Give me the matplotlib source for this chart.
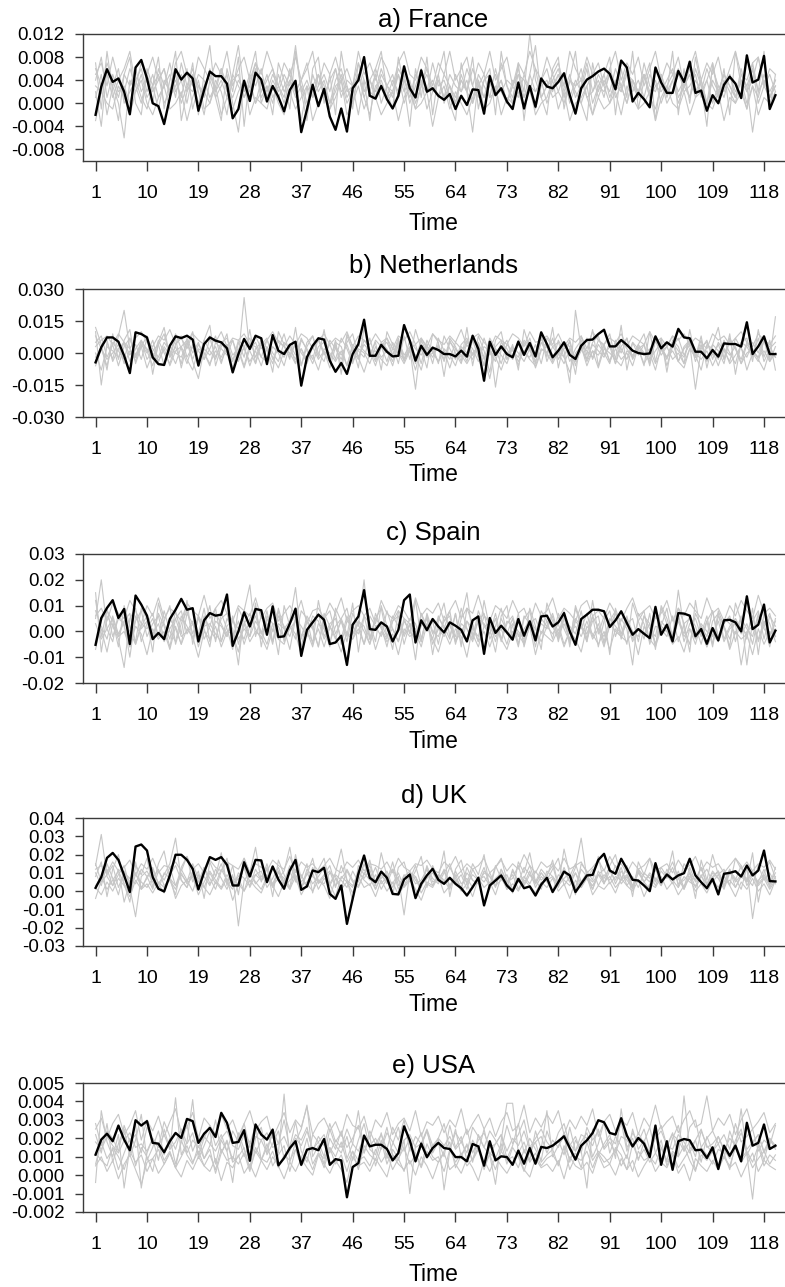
import numpy as np
import matplotlib
matplotlib.use("Agg")
import matplotlib.pyplot as plt

plt.rcParams['font.family'] = ['Liberation Sans', 'DejaVu Sans']
plt.rcParams['axes.unicode_minus'] = False

# ---------------- data ----------------
titles = ["a) France", "b) Netherlands", "c) Spain", "d) UK", "e) USA"]
x_label = "Time"
x_ticks = list(range(1, 119, 9))
units = [1e-3, 1e-3, 1e-3, 1e-3, 1e-4]

y_ticks = [
    [0.012, 0.008, 0.004, 0.000, -0.004, -0.008],
    [0.030, 0.015, 0.000, -0.015, -0.030],
    [0.03, 0.02, 0.01, 0.00, -0.01, -0.02],
    [0.04, 0.03, 0.02, 0.01, 0.00, -0.01, -0.02, -0.03],
    [0.005, 0.004, 0.003, 0.002, 0.001, 0.000, -0.001, -0.002],
]
y_ticklabels = [
    ["0.012", "0.008", "0.004", "0.000", "-0.004", "-0.008"],
    ["0.030", "0.015", "0.000", "-0.015", "-0.030"],
    ["0.03", "0.02", "0.01", "0.00", "-0.01", "-0.02"],
    ["0.04", "0.03", "0.02", "0.01", "0.00", "-0.01", "-0.02", "-0.03"],
    ["0.005", "0.004", "0.003", "0.002", "0.001", "0.000", "-0.001", "-0.002"],
]
y_limits = [(-0.010, 0.012), (-0.030, 0.030), (-0.02, 0.03), (-0.03, 0.04), (-0.002, 0.005)]

# highlighted (black) series, in the units listed above
france = [-2.0, 2.9, 5.9, 3.7, 4.3, 2.0, -1.9, 6.2, 7.5, 4.3,
          0.0, -0.5, -3.6, 0.9, 5.9, 4.1, 5.3, 4.3, -1.3, 2.3,
          5.5, 4.7, 4.7, 3.4, -2.6, -1.0, 3.9, 0.4, 5.3, 4.1,
          0.3, 3.0, 1.1, -1.4, 2.3, 3.9, -5.0, -1.1, 3.2, -0.5,
          2.5, -2.3, -4.6, -0.9, -4.9, 2.6, 4.0, 8.0, 1.3, 0.8,
          3.0, 0.7, -0.9, 1.3, 6.4, 2.6, 1.0, 5.7, 2.0, 2.6,
          1.3, 0.6, 1.6, -1.0, 1.3, -0.3, 2.4, 2.3, -1.8, 4.7,
          1.4, 2.6, 0.3, -1.0, 3.6, -0.9, 3.0, -0.6, 4.3, 2.9,
          2.6, 3.7, 5.2, 1.4, -1.8, 2.6, 4.1, 4.7, 5.5, 6.0,
          5.1, 2.4, 7.4, 6.2, 0.3, 1.8, 0.7, -0.7, 6.2, 3.6,
          1.8, 1.8, 5.6, 3.7, 7.2, 1.8, 2.2, -1.3, 1.4, 0.0,
          3.2, 4.6, 3.4, 0.9, 8.3, 3.6, 4.1, 8.2, -1.0, 1.4]
netherlands = [-4.4, 2.7, 7.3, 7.3, 5.3, -1.3, -9.4, 9.7, 8.9, 7.3,
               -2.0, -5.2, -5.6, 3.4, 7.8, 7.0, 8.1, 6.3, -5.9, 4.2,
               7.3, 5.8, 5.0, 2.2, -9.1, -0.5, 6.6, 1.9, 8.1, 6.9,
               -5.2, 8.4, 1.1, -0.5, 3.8, 5.3, -15.3, -2.0, 3.4, 6.9,
               6.3, -3.6, -8.8, -4.7, -9.8, -0.5, 4.2, 15.6, -1.3, -1.3,
               3.8, 0.6, -1.6, -1.3, 13.1, 5.8, -3.6, 3.4, -0.9, 2.5,
               1.4, -0.5, -0.5, -1.6, 1.1, -1.7, 8.1, 1.9, -13.0, 5.3,
               -0.9, 3.1, -0.5, -2.0, 5.3, -0.9, 4.7, -1.6, 9.7, 4.2,
               -2.0, 1.1, 5.0, -0.9, -2.8, 3.4, 6.1, 6.3, 8.9, 10.9,
               3.1, 3.1, 6.1, 3.8, 1.1, 0.0, -0.5, -0.2, 7.8, 2.2,
               5.0, 3.0, 11.3, 7.3, 6.9, 0.6, 0.6, -2.5, 1.4, -1.7,
               4.5, 4.2, 4.2, 3.0, 14.4, -0.5, 3.1, 7.8, -0.5, -0.5]
spain = [-5.2, 5.2, 9.1, 12.1, 5.2, 8.7, -4.9, 13.9, 10.4, 6.1,
         -3.0, -0.6, -3.0, 4.8, 8.4, 12.6, 8.4, 9.0, -3.9, 4.3,
         7.1, 6.1, 6.5, 14.3, -5.6, 0.0, 7.4, 1.9, 8.7, 8.2,
         -1.3, 9.7, -2.2, -1.9, 3.0, 8.8, -9.5, 0.6, 3.5, 6.5,
         4.5, -4.9, -4.3, -1.7, -13.0, 2.6, 5.8, 16.0, 0.9, 0.6,
         3.5, 1.9, -3.9, 0.6, 12.1, 14.3, -4.3, 4.3, 0.5, 4.8,
         1.9, -0.4, 3.5, 2.2, 0.6, -3.9, 4.3, 5.8, -8.7, 5.2,
         -0.6, 2.2, -0.4, -3.2, 4.8, -1.7, 3.9, -3.5, 5.8, 6.1,
         1.9, 3.5, 7.1, 0.0, -5.2, 4.8, 6.5, 8.4, 8.4, 7.8,
         1.7, 4.3, 7.8, 3.2, -1.3, 0.9, -0.9, -2.6, 9.5, -1.3,
         2.6, -3.9, 7.1, 6.9, 6.1, -1.9, 0.9, -4.8, 1.3, -3.5,
         4.3, 4.5, 3.5, 0.0, 13.6, 0.9, 2.6, 10.4, -4.3, 0.3]
uk = [1.8, 7.7, 18.2, 20.9, 17.1, 8.6, -0.5, 24.4, 25.5, 22.2,
      7.7, 1.3, -0.2, 8.6, 19.9, 19.9, 17.1, 12.2, 0.9, 10.4,
      18.6, 17.1, 18.6, 14.4, 3.1, 3.1, 15.8, 8.0, 17.1, 16.8,
      4.9, 13.5, 6.4, 1.3, 11.3, 17.1, 0.7, 2.6, 11.3, 10.4,
      12.8, -1.5, -4.2, 3.1, -17.9, -4.2, 9.5, 19.5, 7.3, 4.9,
      10.7, 7.3, -1.5, -1.8, 6.4, 9.1, -3.8, 4.0, 8.6, 12.2,
      6.2, 4.0, 7.3, 4.0, 1.6, -2.4, 2.2, 7.3, -7.8, 3.1,
      5.8, 8.6, 3.1, 0.0, 6.7, 1.6, 2.6, -2.4, 3.6, 7.3,
      -0.5, 4.9, 10.7, 8.6, -0.5, 4.0, 8.6, 8.9, 17.1, 20.4,
      11.3, 9.5, 17.7, 12.2, 6.2, 5.8, 3.1, 0.0, 15.3, 4.9,
      9.1, 6.4, 8.6, 9.8, 17.7, 8.6, 4.9, 1.6, 6.7, -1.8,
      9.5, 10.0, 10.9, 8.0, 14.0, 8.6, 11.3, 22.2, 5.5, 5.3]
usa = [11.1, 19.3, 22.5, 18.4, 26.9, 19.3, 13.5, 29.8, 26.9, 29.3,
       17.5, 17.1, 12.4, 18.4, 22.9, 20.2, 30.5, 29.3, 17.5, 22.5,
       25.6, 20.7, 33.8, 28.4, 17.5, 18.0, 24.4, 7.8, 27.5, 22.0,
       19.3, 24.7, 5.3, 9.3, 14.7, 18.4, 5.6, 13.8, 14.7, 13.5,
       19.6, 5.6, 8.7, 8.0, -12.0, 4.4, 6.5, 21.5, 15.6, 16.5,
       16.5, 14.2, 8.0, 12.0, 26.5, 18.9, 7.5, 17.1, 9.8, 14.7,
       17.5, 14.7, 14.2, 9.8, 9.8, 7.5, 16.9, 15.6, 5.1, 18.4,
       8.0, 10.2, 9.8, 5.6, 13.3, 6.2, 14.7, 6.2, 15.3, 14.7,
       16.0, 18.4, 21.1, 14.7, 8.4, 16.0, 18.9, 22.9, 29.8, 28.7,
       22.9, 22.0, 30.9, 21.5, 15.6, 20.2, 17.1, 9.8, 26.9, 5.6,
       18.4, 2.9, 18.4, 19.6, 18.9, 13.5, 13.8, 9.3, 15.1, 3.3,
       16.0, 10.5, 16.0, 7.5, 28.4, 16.0, 17.5, 27.5, 14.2, 16.0]

# background (grey) series, same units
fr_g1 = [4,8,1,5,2,3,0,4,6,2, 5,1,3,7,2,4,0,5,3,1, 6,2,4,1,5,10,2,3,0,4, 2,5,3,1,6,2,4,0,3,5,
         1,4,6,2,3,0,5,2,4,6, 3,1,4,2,5,0,3,6,2,4, 1,5,3,0,4,2,6,3,1,5, 2,4,0,3,6,2,12,4,1,3,
         5,2,0,4,3,6,1,2,5,3, 0,4,2,6,3,1,5,2,4,0, 3,5,2,4,1,6,3,0,4,2, 5,3,1,4,2,6,0,3,5,2]
fr_g2 = [2,-4,6,3,0,-6,4,2,5,1, 3,-1,4,2,5,0,3,6,2,-2, 4,1,3,5,0,-5,4,2,6,1, 3,0,5,2,4,1,3,-1,5,2,
         4,0,2,5,1,3,-2,4,2,5, 0,3,5,1,4,2,-1,3,5,2, 4,1,3,0,5,2,-5,4,1,3, 5,2,0,4,3,1,5,2,4,0,
         3,5,1,4,2,0,3,5,1,4, 2,6,3,0,4,2,5,1,3,4, 0,2,5,3,1,4,2,6,3,1, 4,2,0,5,3,-5,2,4,1,3]
fr_g3 = [6,3,5,1,4,2,6,3,0,5, 2,4,6,1,3,5,2,4,0,3, 5,2,6,3,1,4,2,5,3,6, 1,4,2,5,3,10,2,4,1,5,
         3,0,4,6,2,3,5,1,4,2, 6,3,1,5,2,4,0,3,6,2, 4,1,5,3,2,4,0,5,3,1, 6,2,4,3,5,1,3,2,4,6,
         2,5,3,1,4,2,6,0,3,5, 1,4,3,6,2,4,1,5,3,2, 4,6,1,3,5,2,4,0,6,3, 2,5,1,4,3,6,2,4,1,3]
fr_g4 = [1,5,-2,3,6,0,2,4,1,-1, 3,5,0,2,4,1,6,-1,3,2, 0,4,2,-2,5,3,1,4,0,2, 5,1,3,0,4,2,-3,3,1,5,
         2,-1,3,4,0,2,5,1,-2,3, 4,1,2,5,0,3,1,4,-1,2, 5,0,3,1,4,2,0,3,5,1, 2,4,0,3,1,5,2,-1,3,4,
         1,2,5,0,3,4,1,-2,3,2, 5,1,3,0,4,2,5,1,-1,3, 2,4,0,3,5,1,2,4,0,3, 1,5,2,4,0,3,1,5,2,4]
fr_g5 = [3,2,7,4,1,5,3,6,2,4, 0,6,3,5,1,7,3,2,5,4, 1,3,6,2,4,5,1,3,7,2, 4,6,1,3,5,2,4,7,1,3,
         5,2,6,1,4,3,7,2,4,1, 5,3,2,6,4,1,5,3,2,7, 3,4,1,5,2,6,3,1,4,5, 2,7,3,1,5,4,2,6,1,3,
         4,6,2,5,1,3,7,2,4,1, 6,3,2,5,4,1,7,3,2,5, 1,4,6,2,3,5,1,4,7,2, 5,3,1,6,2,4,8,3,1,4]
fr_g6 = [7,-1,9,2,-3,5,8,0,-2,6, 3,8,-1,4,9,-3,2,7,-2,5, 10,1,-3,6,2,8,-4,5,9,0, 3,-2,7,4,-1,9,2,-3,6,8,
         0,5,-2,9,3,-1,7,4,-3,6, 9,2,-1,8,3,-4,6,1,8,-2, 5,9,0,-3,7,2,8,-1,4,6, -2,9,3,0,7,-3,5,10,1,-2,
         6,8,-1,4,9,0,-3,7,2,5, 8,-2,6,1,9,-1,4,7,-3,5, 2,9,-2,6,0,8,3,-4,7,1, 6,-2,9,3,-1,7,2,9,-1,5]
fr_g7 = [-3,2,0,-1,3,1,-2,2,4,0, -2,1,3,-1,0,2,-3,1,4,-1, 0,3,-2,1,-1,2,4,-2,1,0, -1,3,0,-2,2,-1,1,3,-3,0,
         2,-1,1,4,-2,0,3,-1,2,1, -2,0,2,-3,1,3,-1,0,2,-4, 1,3,-1,2,0,-2,1,4,-1,0, 3,-2,1,0,2,-1,3,-2,0,1,
         4,-1,2,-3,0,1,3,-2,1,-1, 0,2,-2,3,1,-1,0,2,-3,1, 3,0,-1,2,-2,1,4,0,-1,2, -3,1,0,2,-1,3,-2,1,0,2]
fr_g8 = [5,7,3,8,4,6,9,3,7,5, 8,4,6,2,7,9,5,3,8,6, 4,7,5,9,3,6,8,4,7,5, 9,6,3,7,5,8,4,6,9,3,
         7,5,8,4,6,3,9,5,7,4, 8,6,3,7,9,5,4,8,6,3, 7,5,9,4,6,8,3,7,5,9, 4,6,8,3,7,5,9,6,4,8,
         5,7,3,9,6,4,8,5,7,3, 6,9,4,7,5,8,3,6,9,4, 7,5,8,3,6,9,4,7,5,8, 3,6,9,5,4,7,8,3,6,5]

nl_g1 = [10,-15,5,-3,8,20,2,-4,6,1, -6,4,9,-2,3,-5,7,0,5,-3, 2,8,-4,3,6,-2,26,1,-5,4, 7,-3,2,9,-1,4,-6,3,8,0,
         -4,6,2,-3,5,9,-2,4,1,-6, 3,7,-1,5,-4,2,-17,6,0,3, -5,8,2,-3,4,7,-1,3,-6,5, -16,2,6,-3,4,0,7,-2,5,3,
         -4,6,1,-14,20,2,-3,5,8,-1, 3,-5,6,2,-2,4,9,-3,1,5, -6,3,7,-1,4,-17,2,6,-3,5, 1,-4,7,2,-2,5,0,8,-3,17]
nl_g2 = [5,8,-2,4,-6,3,7,-1,5,2, -3,6,0,-5,4,8,-2,3,-4,6, 1,-3,5,7,-1,2,-6,4,3,-2, 6,0,-4,5,2,-3,7,1,-5,3,
         5,-2,4,-6,8,1,-3,6,2,-4, 3,5,-1,7,-3,2,4,-5,6,0, 3,-4,5,2,-2,6,-1,4,-3,7, 2,-5,4,1,-2,6,3,-4,5,0,
         7,-3,2,5,-6,4,1,-2,6,3, -4,5,0,7,-3,2,4,-5,6,-1, 3,8,-4,2,5,-2,6,-3,4,1, -5,7,2,-3,5,0,-4,6,3,-2]
nl_g3 = [-2,3,6,-4,2,5,-1,4,-3,7, 2,-2,5,1,-5,3,6,-3,4,0, -6,5,2,-1,6,-4,3,7,-2,4, 1,-5,6,3,-2,5,0,-4,3,6,
         -1,4,-3,7,2,-5,4,1,-2,6, 3,-4,5,0,-3,6,2,-1,4,-5, 7,1,-3,5,2,-4,6,-2,3,1, -4,5,2,-3,6,0,-2,4,-5,7,
         3,-1,5,-4,2,6,-3,4,1,-2, 5,-5,3,7,-2,4,0,-4,6,2, -3,5,1,-2,6,-4,3,5,-1,4, -3,6,2,-5,4,1,-2,6,-4,3]
nl_g4 = [8,2,-6,5,1,-3,7,-2,4,0, 6,-4,3,-1,9,2,-5,4,1,-3, 7,-2,5,0,-4,6,3,-6,2,5, -3,8,1,-2,4,-5,6,2,-3,7,
         0,-4,5,3,-6,4,1,-2,7,-3, 5,2,-4,6,-1,3,-5,7,2,-2, 4,-3,6,0,-5,5,2,-4,7,-1, 3,6,-3,2,-6,5,1,-2,8,-4,
         3,5,-2,6,-4,1,7,-3,4,0, -5,6,2,-3,5,-1,4,-6,7,2, -2,5,-4,3,6,-1,-8,4,2,-3, 6,0,-5,5,3,-2,7,-4,2,5]
nl_g5 = [0,-8,3,1,-2,5,-4,2,6,-3, 1,4,-6,3,0,-2,5,-4,-12,2, -1,3,-5,4,-3,1,-7,2,5,-2, -4,3,0,-6,4,-1,2,-5,3,-3,
         1,-7,3,-1,4,-4,2,0,-5,3, -2,1,-6,4,-3,2,-1,-8,3,1, -4,2,-1,-6,3,0,-3,5,-2,-12, 2,-1,-5,3,0,-4,2,-7,1,3,
         -3,0,-5,2,-2,3,-6,1,-1,4, -4,2,-3,0,-6,3,-1,2,-5,1, 3,-3,0,-5,2,-2,4,-4,1,-6, 2,-1,3,-5,0,2,-3,-8,1,-2]
nl_g6 = [12,4,-8,9,-3,6,11,-5,3,8, -10,5,12,-2,7,-7,4,10,-4,6, 13,-6,3,9,-8,5,-2,11,-5,7, 2,-9,10,4,-3,12,-6,5,8,-2,
         11,-4,6,-10,9,3,-7,12,-1,5, -8,10,4,-5,8,-3,11,2,-7,9, 5,-11,7,3,-4,12,-6,8,1,-9, 6,10,-3,4,-8,11,2,-5,9,-2,
         12,-7,5,3,-10,8,-1,11,-6,4, 9,-3,13,-8,5,2,-6,10,-4,7, -9,6,3,-5,11,-2,8,-7,4,12, -3,9,-10,5,7,-4,11,-2,6,-8]
nl_g7 = [-6,2,-3,0,4,-5,1,-2,3,-7, 0,-4,2,-6,1,3,-3,-8,2,0, -5,1,-2,4,-9,0,2,-4,1,-6, 3,-2,-7,1,0,-5,2,-3,-1,-8,
         2,0,-4,1,-6,3,-2,-9,0,1, -3,-6,2,0,-5,1,-8,3,-2,0, -4,1,-7,2,-1,-5,0,3,-6,1, -2,-8,0,2,-4,1,-3,-6,2,0,
         -5,1,-2,-9,0,3,-4,1,-7,2, 0,-3,-6,1,-1,2,-5,0,-8,3, -2,1,-4,-7,2,0,-3,1,-6,0, 2,-5,-1,3,-8,0,-2,1,-4,0]
nl_g8 = [3,6,8,4,9,5,2,7,10,5, 3,8,6,11,4,7,2,9,6,4, 8,5,10,3,7,6,9,4,8,2, 6,10,5,3,8,4,9,7,2,6,
         9,4,7,5,10,3,8,6,4,9, 5,7,2,8,6,10,4,7,3,9, 6,4,8,5,11,3,7,9,5,2, 8,6,4,9,7,3,10,5,6,8,
         4,9,3,7,5,8,2,10,6,4, 7,5,9,3,8,6,4,10,5,7, 3,8,6,9,4,7,5,2,9,6, 8,4,7,10,5,3,9,6,4,8]

es_g1 = [15,-8,6,2,-3,-14,5,9,-4,3, 7,-2,4,10,-5,3,8,-1,6,-3, 2,9,-4,5,1,-13,8,18,-2,6, 3,-5,9,1,4,17,-3,6,2,-6,
         5,8,-1,4,-4,7,2,20,-3,5, 9,-2,4,6,-5,3,-11,7,2,-3, 6,1,8,-4,5,15,-2,4,7,-3, 2,9,-1,5,-5,6,3,-2,8,4,
         -3,7,1,-4,9,2,-1,6,-6,4, 8,-2,5,1,-13,7,3,-4,6,2, 9,-3,16,1,-5,7,2,-2,8,-4, 5,3,-1,6,-13,4,8,-3,6,2]
es_g2 = [5,20,1,-4,7,2,-6,4,8,-2, 3,6,-3,5,1,-5,7,3,-1,9, -4,4,2,-2,6,-5,3,7,1,-3, 5,0,8,-4,3,6,-2,4,1,-6,
         7,2,-3,5,9,-1,3,-5,6,2, -2,8,1,-4,5,3,-3,7,0,4, -5,6,2,-2,9,1,-4,5,3,-1, 7,-3,4,2,-6,5,8,-2,3,1,
         6,-4,5,2,-1,8,-3,4,6,-5, 2,7,-1,3,5,-4,6,1,-2,9, 3,-3,5,-1,6,2,-5,4,8,-2, 3,6,-4,5,1,-2,7,3,-6,5]
es_g3 = [-7,4,9,-2,5,3,-10,6,1,4, -3,7,2,-6,5,8,-1,3,-4,6, 1,-3,5,7,-2,4,-5,2,6,-1, 8,-4,3,1,-7,5,2,-2,6,4,
         -3,1,7,-5,4,2,-1,6,-3,5, 2,-6,4,8,-2,3,1,-4,6,-1, 5,2,-3,7,-5,4,1,-2,6,3, -4,5,0,-2,7,-6,3,5,-1,4,
         2,-3,6,-5,4,1,7,-2,3,-4, 5,2,-1,6,-3,4,8,-5,2,1, -2,6,-4,3,5,-1,2,-6,4,7, -3,2,5,-1,3,-5,6,1,-2,4]
es_g4 = [8,2,-3,6,-1,4,7,-5,3,1, 5,-2,8,0,-4,6,2,-3,5,1, -6,7,3,-2,4,1,-3,5,8,-1, 3,-4,6,2,-2,5,-6,4,1,7,
         -2,3,5,-3,6,-1,4,2,-5,7, 1,-3,6,2,-1,5,3,-4,7,0, -2,4,6,-5,3,1,-3,8,2,-1, 5,-4,3,6,-2,1,4,-6,5,2,
         7,-1,3,-3,5,2,-4,6,1,-2, 4,8,-3,5,0,-2,6,3,-5,4, 1,-1,7,-4,3,5,-2,4,-6,6, 2,-3,5,1,-1,6,-4,3,7,-2]
es_g5 = [3,-3,1,5,-2,4,0,-5,2,6, -1,3,-4,1,5,-2,0,4,-6,2, 3,-1,-4,2,5,-3,1,-2,4,0, -5,3,2,-3,1,4,-2,0,-6,3,
         1,-4,2,5,-1,-3,4,0,-5,2, 3,-2,1,-4,4,0,-3,2,5,-5, 1,-2,3,-4,0,4,-1,-6,2,3, -2,1,-5,3,0,-3,4,1,-4,2,
         -1,3,-5,0,2,-2,4,-3,1,-6, 3,0,-2,4,-4,1,-1,3,-5,2, 0,-3,4,-2,1,-5,3,0,-2,4, -4,1,3,-13,0,2,-3,4,-1,1]
es_g6 = [12,-2,8,4,-6,10,2,-4,9,5, -8,11,3,-3,8,-1,12,-5,6,2, 10,-4,7,1,-7,9,4,-2,11,-6, 6,3,-9,10,2,-3,8,5,-5,12,
         1,-6,9,4,-2,11,-8,6,3,-4, 10,2,-7,8,5,-1,12,-3,6,-9, 4,11,-2,7,-6,9,3,-4,12,1, -8,6,10,-3,5,-5,9,2,-7,11,
         4,-2,8,-6,10,3,-4,12,-1,6, -9,9,2,-5,11,4,-3,7,-7,10, 5,-2,9,3,-8,12,-1,6,-5,8, 2,-6,11,4,-3,9,-9,7,3,-4]
es_g7 = [-4,1,-8,3,-2,0,-6,2,-1,-9, 1,-3,0,-7,2,-5,1,-2,-10,0, -3,2,-6,0,-1,-8,3,-4,0,-2, -7,1,-3,-5,2,-1,-9,0,-4,1,
         -6,2,-2,-8,0,-3,1,-5,2,-7, 0,-4,-1,-9,1,-2,0,-6,3,-3, -8,0,-5,1,-2,-10,2,-4,0,-6, 1,-3,-7,0,-1,-5,2,-9,0,-2,
         -4,1,-6,0,-3,-8,2,-1,-5,0, -7,1,-2,-4,0,-9,2,-3,-6,1, 0,-5,-2,-8,1,-3,0,-6,-1,-4, 2,-7,0,-3,-1,-9,1,-5,0,-2]
es_g8 = [6,9,4,11,7,5,12,8,3,10, 6,13,5,9,7,4,11,8,6,14, 5,9,12,7,4,10,8,6,13,5, 9,11,4,7,10,6,12,3,8,9,
         5,11,7,13,4,8,10,6,9,3, 12,7,5,10,8,4,13,6,9,7, 11,4,8,12,5,9,7,14,6,4, 10,8,5,12,7,9,3,11,6,8,
         13,5,9,7,4,10,12,6,8,5, 11,7,4,9,13,6,8,10,5,7, 12,4,9,6,11,8,5,13,7,9, 4,10,6,12,8,5,14,7,9,6]

uk_g1 = [14,31,8,3,12,-6,5,10,2,7, 13,4,9,15,29,6,2,11,5,8, 3,12,7,1,9,-19,6,10,4,8, 12,3,7,11,24,5,9,2,13,6,
         4,10,8,1,12,6,3,9,14,5, 7,11,2,8,-13,10,4,6,12,3, 9,5,13,7,2,10,6,4,11,8, 3,12,5,9,1,7,14,4,10,6,
         8,2,11,5,13,29,7,3,9,12, 4,8,6,14,2,10,5,9,3,11, 7,13,4,6,10,2,8,12,5,9, 3,11,7,1,13,-15,6,9,4,10]
uk_g2 = [-4,6,12,3,9,14,2,-14,8,11, 5,1,10,7,3,12,6,9,2,13, 4,8,15,5,1,10,7,3,12,6, 9,2,11,5,14,7,1,10,4,8,
         13,3,9,6,2,11,5,15,7,1, 9,4,12,6,3,10,8,2,14,5, 7,11,3,9,1,13,6,4,10,8, 2,12,5,7,14,3,9,6,1,11,
         8,4,13,5,10,2,7,12,3,9, 6,14,4,8,1,11,5,10,7,3, 12,6,9,2,13,5,8,4,11,7, 1,10,6,14,3,9,5,12,2,8]
uk_g3 = [10,3,15,7,-2,11,5,16,1,8, 12,4,-1,9,14,6,2,10,5,13, 7,1,11,18,4,8,13,2,9,6, 15,3,10,7,1,12,5,9,18,4,
         8,11,2,14,6,3,10,7,12,1, 9,5,16,3,8,11,6,2,13,7, 4,10,15,5,9,1,12,6,8,3, 14,7,2,11,5,13,9,4,10,6,
         12,18,3,8,15,5,10,1,9,7, 13,4,11,6,2,12,8,5,14,3, 9,16,7,1,10,6,13,4,8,11, 2,12,5,9,7,3,14,6,10,4]
uk_g4 = [3,8,1,6,11,4,-1,9,5,2, 7,12,3,6,1,10,4,8,-2,5, 11,6,2,9,3,7,0,10,5,1, 8,4,11,2,6,9,3,5,10,1,
         7,4,-3,8,5,2,11,6,3,9, 1,7,4,10,2,6,8,-1,5,3, 9,6,1,11,4,7,2,8,5,10, 3,6,9,1,7,4,11,2,8,5,
         0,9,6,3,10,4,7,1,11,5, 8,2,6,9,3,12,5,1,7,4, 10,6,2,8,5,3,9,1,7,11, 4,6,2,8,5,10,3,7,1,6]
uk_g5 = [15,5,9,14,2,10,7,4,12,8, 1,11,6,13,3,9,5,15,7,2, 10,4,12,6,8,3,14,5,9,11, 2,7,13,4,10,6,1,12,8,5,
         9,14,3,7,11,5,2,10,6,13, 4,8,12,1,9,6,14,3,7,10, 5,12,2,8,11,4,9,6,13,3, 7,10,1,12,5,8,4,11,6,9,
         14,3,7,10,2,12,8,5,9,4, 11,6,13,3,8,2,10,7,12,5, 9,4,11,1,8,6,13,3,10,7, 5,12,2,9,6,11,4,8,3,13]
uk_g6 = [8,16,-3,12,20,4,-6,14,9,18, 2,15,22,6,-2,13,19,5,11,-4, 16,8,21,3,14,-2,18,10,24,5, 13,-3,17,9,2,20,7,15,-1,12,
         18,4,10,23,6,-5,14,9,17,3, 21,8,-2,13,16,5,11,19,2,14, 7,22,-3,12,17,4,15,9,20,1, 13,18,6,-1,16,10,21,5,12,8,
         17,3,23,9,-2,15,11,6,19,4, 14,20,7,12,-3,16,9,18,5,13, 8,22,2,15,11,-4,17,6,20,9, 12,3,18,14,5,21,-6,10,16,7]
uk_g7 = [2,-2,5,0,7,3,-3,6,1,4, -1,5,2,8,-4,3,6,0,9,2, -2,5,1,7,-5,4,0,6,2,-1, 7,3,-3,5,1,8,-2,4,0,6,
         3,-4,7,1,5,-1,8,2,4,-3, 6,0,5,-2,3,7,1,-5,4,2, 8,-1,3,6,0,4,-3,7,2,5, -2,8,1,4,0,6,3,-1,5,2,
         7,0,4,-4,6,2,8,-2,3,1, 5,-1,7,3,0,6,-3,4,2,8, 1,5,-2,3,7,0,4,-1,6,2, 8,3,-3,5,1,7,0,4,-2,6]
uk_g8 = [12,14,10,16,11,13,17,9,15,12, 18,10,14,13,16,11,19,12,15,10, 17,13,11,16,14,12,18,10,15,13, 11,17,14,12,19,10,16,13,15,11,
         14,18,12,10,16,13,17,11,15,14, 12,16,10,18,13,11,15,14,17,12, 10,16,13,19,11,15,12,14,18,10, 13,17,11,15,12,20,14,10,16,13,
         15,11,18,12,14,16,10,13,17,11, 19,13,15,10,16,12,14,18,11,13, 15,10,17,12,14,19,11,16,13,15, 10,14,18,12,16,11,15,13,17,12]

us_g1 = [-4,35,18,10,22,-7,15,28,-7,12, 20,8,25,14,42,11,18,41,9,16, 24,6,19,13,-4,21,10,17,27,8, 15,22,12,44,7,18,25,38,10,16,
         6,20,14,24,9,17,35,12,21,5, 15,26,11,8,19,-10,16,23,9,14, 20,-8,13,25,10,17,7,22,15,11, -5,19,39,39,12,18,8,24,14,35,
         10,16,21,7,19,13,-7,25,11,17, 22,9,36,15,20,8,18,26,12,6, 16,23,10,43,14,19,7,21,13,17, 9,24,15,36,11,-13,18,8,20,14]
us_g2 = [22,12,28,7,17,25,10,19,33,8, 15,24,11,20,6,18,27,13,21,9, 16,30,12,19,8,23,14,4,20,26, 11,17,24,9,15,29,13,7,22,18,
         10,25,16,12,21,8,19,28,14,11, 23,9,17,26,13,20,7,16,24,12, 18,10,27,15,21,8,19,13,25,11, 17,22,9,16,28,12,20,14,8,24,
         15,19,11,26,13,18,23,10,17,29, 12,21,16,9,25,14,19,11,22,15, 8,20,27,13,18,10,24,16,12,21, 14,9,19,25,11,17,22,13,20,16]
us_g3 = [6,18,9,14,3,12,20,5,15,10, 2,17,8,13,4,19,11,6,16,9, 14,1,12,18,7,10,15,3,13,8, 17,5,11,16,2,14,9,20,6,12,
         4,15,10,18,7,13,3,16,11,8, 19,6,14,9,2,15,12,5,17,10, 7,13,18,4,11,16,8,14,3,12, 9,17,6,15,10,2,13,18,7,11,
         14,5,16,9,12,4,18,8,13,10, 6,15,11,3,17,9,14,7,12,19, 5,13,10,16,8,2,15,11,6,14, 12,3,17,9,13,7,16,5,11,8]
us_g4 = [28,16,24,20,13,27,18,22,12,26, 19,15,29,21,14,25,17,23,11,20, 27,16,22,13,24,18,28,15,21,19, 12,25,17,30,14,22,19,26,13,21,
         16,28,18,23,15,20,27,12,24,17, 22,14,26,19,30,13,21,17,25,16, 20,28,14,23,18,12,26,21,15,24, 19,13,27,17,22,30,15,20,25,18,
         14,23,28,16,21,12,26,19,24,15, 20,17,29,13,23,18,25,14,21,27, 16,22,19,13,26,30,15,20,24,17, 22,14,28,18,21,25,13,19,16,27]
us_g5 = [12,8,5,15,10,3,13,7,11,2, 9,14,6,12,4,10,16,7,13,5, 11,3,14,8,10,6,12,2,15,9, 7,13,4,11,8,14,5,10,3,12,
         9,15,6,11,2,13,8,10,5,14, 7,12,3,9,15,6,11,4,13,8, 10,2,14,7,12,5,9,15,6,11, 3,13,8,10,4,14,7,12,5,9,
         11,6,15,3,10,8,13,4,12,7, 9,14,5,11,2,13,8,10,6,15, 7,12,4,9,14,3,11,8,13,6, 10,5,15,7,12,4,9,13,6,11]
us_g6 = [25,31,20,28,33,22,27,35,19,30, 24,32,21,29,36,23,26,34,20,31, 27,22,33,25,30,21,28,35,24,29, 32,20,27,34,23,30,26,37,22,28,
         31,24,29,21,33,27,25,32,20,30, 26,34,22,28,31,24,35,21,29,27, 32,23,30,26,36,22,28,33,25,31, 21,29,34,24,27,38,23,31,26,33,
         28,35,22,30,25,32,27,36,21,29, 33,24,30,27,34,22,31,26,38,25, 29,32,23,30,35,26,28,43,24,31, 27,33,22,30,36,25,29,34,23,28]
us_g7 = [5,10,2,8,-2,6,11,3,-5,7, 9,1,6,12,4,-1,8,3,10,5, 2,9,-3,7,4,11,1,6,-1,8, 3,10,5,-2,7,2,9,4,0,11,
         6,1,8,3,-4,10,5,7,2,9, 4,-1,11,6,3,8,0,10,5,-2, 7,12,3,6,1,9,4,-3,8,2, 10,5,1,7,11,3,-1,9,4,6,
         2,8,-2,10,5,3,7,1,11,4, 6,0,9,3,8,-1,5,10,2,7, 4,11,1,6,-3,9,5,2,8,3, 10,4,7,-1,6,12,2,8,5,3]
us_g8 = [18,14,21,16,12,19,23,15,17,13, 20,16,22,14,18,25,12,19,15,21, 17,13,20,24,16,14,22,18,12,19, 23,15,17,21,13,20,16,24,14,18,
         22,12,19,15,25,17,13,21,16,20, 14,23,18,12,19,22,15,17,24,13, 20,16,21,14,18,25,12,19,23,15, 17,22,13,20,16,24,14,18,21,12,
         19,15,23,17,13,22,20,16,25,14, 18,12,21,19,15,23,17,13,20,24, 16,14,22,18,12,19,25,15,17,21, 13,20,16,23,14,18,22,12,19,15]

highlight = [france, netherlands, spain, uk, usa]
background = [
    [fr_g1, fr_g2, fr_g3, fr_g4, fr_g5, fr_g6, fr_g7, fr_g8],
    [nl_g1, nl_g2, nl_g3, nl_g4, nl_g5, nl_g6, nl_g7, nl_g8],
    [es_g1, es_g2, es_g3, es_g4, es_g5, es_g6, es_g7, es_g8],
    [uk_g1, uk_g2, uk_g3, uk_g4, uk_g5, uk_g6, uk_g7, uk_g8],
    [us_g1, us_g2, us_g3, us_g4, us_g5, us_g6, us_g7, us_g8],
]

# ---------------- layout (pixels) ----------------
W, H = 785, 1287
ax_left, ax_right = 83, 784
ax_tb = [(34, 161), (289, 417), (554, 683), (818, 946), (1083, 1212)]
title_pad_px = [7, 16, 14, 15, 10]
xlabel_off_px = [51, 46, 47, 47, 51]
PT = 72.0 / 100.0

fig = plt.figure(figsize=(W / 100, H / 100), dpi=100)
spine_col = "#3a3a3a"

for i in range(5):
    top, bot = ax_tb[i]
    ax = fig.add_axes([ax_left / W, 1 - bot / H, (ax_right - ax_left) / W, (bot - top) / H])
    u = units[i]
    for g in background[i]:
        xs = np.arange(1, len(g) + 1)
        ax.plot(xs, np.array(g, dtype=float) * u, color="#c6c6c6", lw=0.8, zorder=1)
    hs = highlight[i]
    ax.plot(np.arange(1, len(hs) + 1), np.array(hs) * u, color="black", lw=1.7, zorder=3)

    ax.set_xlim(-1.2, 121.5)
    ax.set_ylim(*y_limits[i])
    ax.set_xticks(x_ticks)
    ax.set_xticklabels([str(t) for t in x_ticks])
    ax.set_yticks(y_ticks[i])
    ax.set_yticklabels(y_ticklabels[i])
    ax.tick_params(axis="x", direction="out", length=7, width=1, pad=14 * PT,
                   labelsize=14, color=spine_col)
    ax.tick_params(axis="y", direction="out", length=6, width=1, pad=10 * PT,
                   labelsize=13.5, color=spine_col)
    for s in ["left", "bottom", "top"]:
        ax.spines[s].set_color(spine_col)
        ax.spines[s].set_linewidth(1.0)
    ax.spines["right"].set_visible(False)

    ax.set_title(titles[i], fontsize=18.5, pad=title_pad_px[i] * PT)
    ax.set_xlabel(x_label, fontsize=16.5)
    ax.xaxis.set_label_coords(0.5, -xlabel_off_px[i] / (bot - top))

fig.savefig("out.png", dpi=100)
